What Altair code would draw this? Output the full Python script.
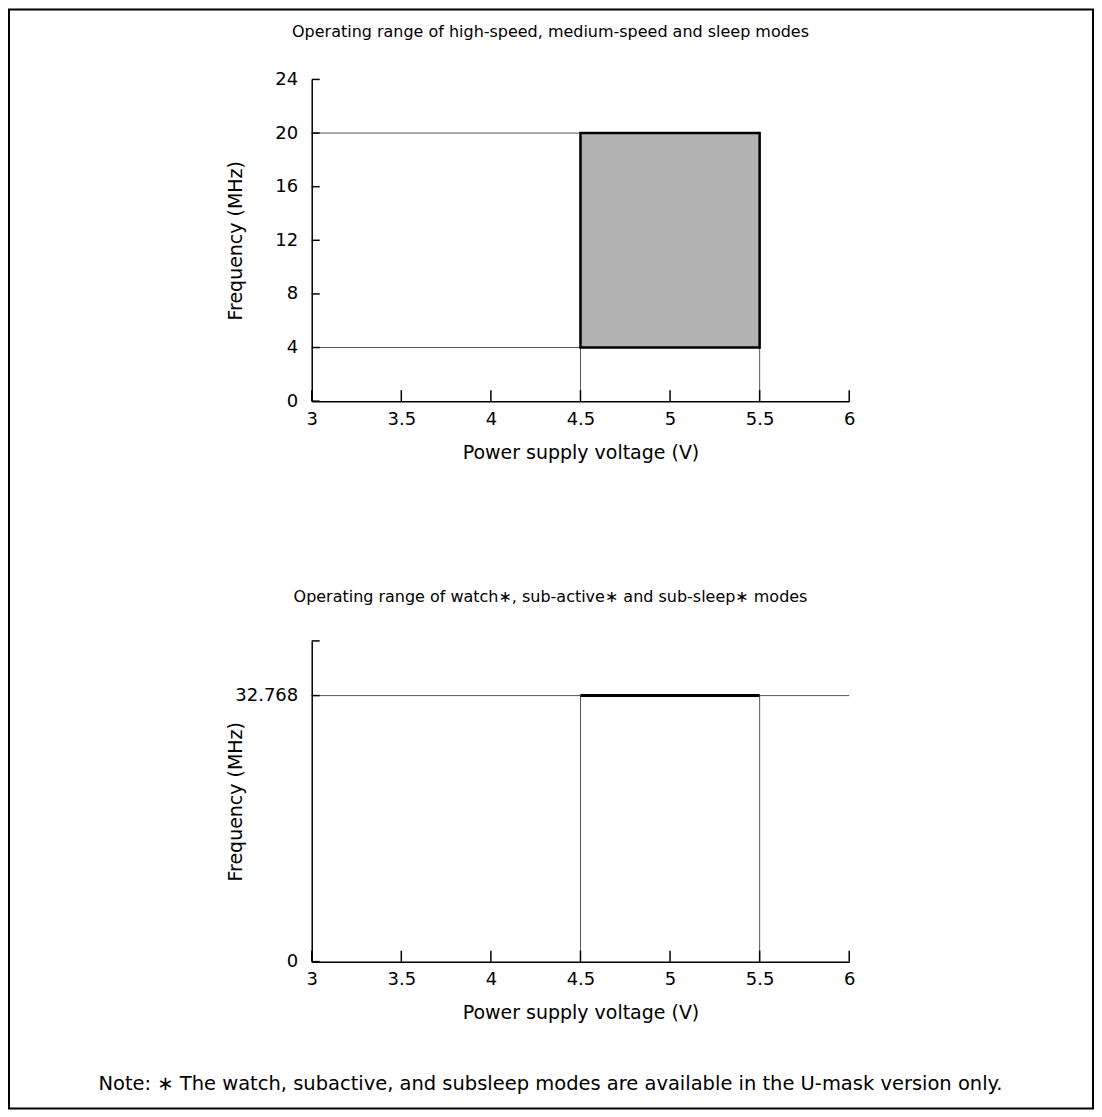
import altair as alt
import pandas as pd

FONT = "DejaVu Sans"

# ---------------- data ----------------
x_domain = [3, 6]
x_ticks = [3, 3.5, 4, 4.5, 5, 5.5, 6]

# top chart: high-speed / medium-speed / sleep
top_y_domain = [0, 24]
top_y_ticks = [0, 4, 8, 12, 16, 20, 24]
v_low, v_high = 4.5, 5.5
f_low, f_high = 4, 20

# bottom chart: watch / sub-active / sub-sleep
bot_y_domain = [0, 39.5]
bot_y_labels = [0, 32.768]
bot_y_ticks = [0, 32.768, 39.5]
sub_freq = 32.768

top_title = "Operating range of high-speed, medium-speed and sleep modes"
bot_title = "Operating range of watch\u2217, sub-active\u2217 and sub-sleep\u2217 modes"
note_text = "Note: \u2217 The watch, subactive, and subsleep modes are available in the U-mask version only."
x_title = "Power supply voltage (V)"
y_title = "Frequency (MHz)"

W = 538
H_TOP = 322
H_BOT = 321
LABEL_SIZE = 18
TITLE_SIZE = 19

X_AXIS = alt.Axis(values=x_ticks, format="~g", ticks=False, tickSize=0,
                  labelPadding=9, labelFlush=False, labelOverlap=False,
                  labelFont=FONT, labelFontSize=LABEL_SIZE, labelColor="black",
                  domainColor="black", domainWidth=1.5, grid=False,
                  title=x_title, titleFont=FONT, titleFontSize=TITLE_SIZE,
                  titleFontWeight="normal", titleColor="black",
                  titleY=51, titleBaseline="middle")


def y_axis(labels, height):
    return alt.Axis(values=labels, labelExpr="format(datum.value, '.3~f')",
                    ticks=False, tickSize=0,
                    labelPadding=14, labelFont=FONT, labelFontSize=LABEL_SIZE,
                    labelColor="black", domainColor="black", domainWidth=1.5,
                    grid=False, title=y_title, titleFont=FONT, titleFontSize=TITLE_SIZE,
                    titleFontWeight="normal", titleColor="black",
                    titleX=-76, titleY=height / 2, titleBaseline="middle")


def x_enc():
    return alt.X("x:Q", scale=alt.Scale(domain=x_domain, nice=False, zero=False), axis=X_AXIS)


def y_enc(domain, labels, height):
    return alt.Y("y:Q", scale=alt.Scale(domain=domain, nice=False, zero=False),
                 axis=y_axis(labels, height))


def tick_layers(y_domain, y_labels, y_tick_vals, height):
    xt = alt.Chart(pd.DataFrame({"x": x_ticks})).mark_rule(
        color="black", strokeWidth=1.5).encode(
        x=x_enc(), y=alt.value(height), y2=alt.value(height - 11))
    yt = alt.Chart(pd.DataFrame({"y": y_tick_vals})).mark_rule(
        color="black", strokeWidth=1.5).encode(
        y=y_enc(y_domain, y_labels, height), x=alt.value(0), x2=alt.value(8))
    return [xt, yt]


def text_layer(text, dx, dy, size):
    return alt.Chart(pd.DataFrame({"t": [text]})).mark_text(
        font=FONT, fontSize=size, color="black", align="center", baseline="middle").encode(
        text="t:N", x=alt.value(dx), y=alt.value(dy))


# ---------------- top chart ----------------
top_thin = pd.DataFrame({
    "x": [x_domain[0], x_domain[0], v_low, v_high],
    "x2": [v_low, v_low, v_low, v_high],
    "y": [f_high, f_low, 0, 0],
    "y2": [f_high, f_low, f_low, f_low],
})
top_box = pd.DataFrame({"x": [v_low], "x2": [v_high], "y": [f_low], "y2": [f_high]})

thin_top = alt.Chart(top_thin).mark_rule(color="#555555", strokeWidth=1).encode(
    x=x_enc(), x2="x2:Q", y=y_enc(top_y_domain, top_y_ticks, H_TOP), y2="y2:Q")
box = alt.Chart(top_box).mark_rect(fill="#b2b2b2", stroke="black", strokeWidth=2.5).encode(
    x=x_enc(), x2="x2:Q", y=y_enc(top_y_domain, top_y_ticks, H_TOP), y2="y2:Q")
frame = alt.Chart(pd.DataFrame({"a": [0]})).mark_rect(
    fillOpacity=0, stroke="black", strokeWidth=2).encode(
    x=alt.value(-303), x2=alt.value(782), y=alt.value(-70), y2=alt.value(1030))

top = alt.layer(
    thin_top, box, *tick_layers(top_y_domain, top_y_ticks, top_y_ticks, H_TOP),
    text_layer(top_title, 239, -47, 16), frame
).properties(width=W, height=H_TOP)

# ---------------- bottom chart ----------------
bot_thin = pd.DataFrame({
    "x": [x_domain[0], v_low, v_high],
    "x2": [x_domain[1], v_low, v_high],
    "y": [sub_freq, 0, 0],
    "y2": [sub_freq, sub_freq, sub_freq],
})
bot_thick = pd.DataFrame({"x": [v_low], "x2": [v_high], "y": [sub_freq], "y2": [sub_freq]})

thin_bot = alt.Chart(bot_thin).mark_rule(color="#555555", strokeWidth=1).encode(
    x=x_enc(), x2="x2:Q", y=y_enc(bot_y_domain, bot_y_labels, H_BOT), y2="y2:Q")
thick_bot = alt.Chart(bot_thick).mark_rule(color="black", strokeWidth=3).encode(
    x=x_enc(), x2="x2:Q", y=y_enc(bot_y_domain, bot_y_labels, H_BOT))

bottom = alt.layer(
    thin_bot, thick_bot, *tick_layers(bot_y_domain, bot_y_labels, bot_y_ticks, H_BOT),
    text_layer(bot_title, 239, -44, 16), text_layer(note_text, 239, 443, 19.5)
).properties(width=W, height=H_BOT)

chart = alt.vconcat(top, bottom, spacing=240, bounds="flush").properties(
    padding=0).configure_view(strokeWidth=0)

chart.save("out.html", embed_options={"renderer": "svg", "actions": False})
